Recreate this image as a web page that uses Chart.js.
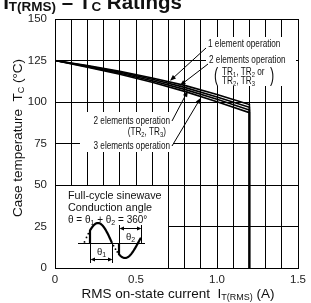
<!DOCTYPE html>
<html><head><meta charset="utf-8">
<script src="https://cdn.jsdelivr.net/npm/chart.js@4.4.0/dist/chart.umd.min.js"></script>
<style>html,body{margin:0;padding:0;background:#fff;overflow:hidden}#wrap{width:311px;height:303px;position:relative}</style>
</head><body><div id="wrap"><canvas id="c" width="311" height="303"></canvas></div>
<script>
// ---- data ----
const currentA        = [0, 0.2, 0.4, 0.6, 0.8, 1.0, 1.2, 1.2];
const oneElement      = [125, 122.0, 118.5, 114.5, 110.0, 104.5, 98.5, 0];
const twoElementsTR12 = [125, 121.7, 118.0, 113.7, 108.8, 103.0, 96.8, 0];
const twoElementsTR23 = [125, 121.3, 117.3, 112.8, 107.6, 101.6, 95.2, 0];
const threeElements   = [125, 121.0, 116.7, 111.9, 106.4, 100.2, 93.6, 0];
const xTickLabels = ['0', '0.5', '1.0', '1.5'];
const xTickValues = [0, 0.5, 1.0, 1.5];
const yTickValues = [0, 25, 50, 75, 100, 125, 150];

const FONT = '"Liberation Sans", Arial, Helvetica, sans-serif';

function pts(series){ return currentA.map((x,i)=>({x:x, y:series[i]})); }
function interp(series, x){
  for (let i=0;i<6;i++){
    if (x>=currentA[i] && x<=currentA[i+1]){
      const t=(x-currentA[i])/(currentA[i+1]-currentA[i]);
      return series[i]+(series[i+1]-series[i])*t;
    }
  }
  return series[0];
}

function drawRichBase(ctx, segs, x, y, size, o){
  o = o || {};
  const sx = o.sx || 1, bold = o.bold ? 'bold ' : '';
  const subSize = o.subSize || size*0.68;
  const subDy = (o.subDy !== undefined) ? o.subDy : size*0.25;
  ctx.save();
  ctx.fillStyle = o.color || '#111';
  ctx.textBaseline = 'alphabetic';
  ctx.textAlign = 'left';
  let w = 0;
  for (const [t, sub] of segs){ ctx.font = bold + (sub?subSize:size) + 'px ' + FONT; w += ctx.measureText(t).width; }
  const W = w*sx;
  const start = o.align==='center' ? x - W/2 : (o.align==='right' ? x - W : x);
  ctx.translate(start, y);
  ctx.scale(sx, 1);
  let cx = 0;
  for (const [t, sub] of segs){
    ctx.font = bold + (sub?subSize:size) + 'px ' + FONT;
    ctx.fillText(t, cx, sub?subDy:0);
    cx += ctx.measureText(t).width;
  }
  ctx.restore();
  return W;
}
function drawRich(ctx, segs, x, y, size, o){
  if (o && o.rotate){
    ctx.save();
    ctx.translate(x, y);
    ctx.rotate(o.rotate);
    const oo = Object.assign({}, o); delete oo.rotate;
    const r = drawRichBase(ctx, segs, 0, 0, size, oo);
    ctx.restore();
    return r;
  }
  return drawRichBase(ctx, segs, x, y, size, o);
}

function arrow(ctx, x1, y1, x2, y2){
  const a = Math.atan2(y2-y1, x2-x1), L=6, H=2.3;
  ctx.save();
  ctx.strokeStyle='#000'; ctx.fillStyle='#000'; ctx.lineWidth=1;
  ctx.beginPath(); ctx.moveTo(x1,y1); ctx.lineTo(x2 - Math.cos(a)*L*0.8, y2 - Math.sin(a)*L*0.8); ctx.stroke();
  ctx.beginPath();
  ctx.moveTo(x2,y2);
  ctx.lineTo(x2 - Math.cos(a)*L - Math.sin(a)*H, y2 - Math.sin(a)*L + Math.cos(a)*H);
  ctx.lineTo(x2 - Math.cos(a)*L + Math.sin(a)*H, y2 - Math.sin(a)*L - Math.cos(a)*H);
  ctx.closePath(); ctx.fill();
  ctx.restore();
}

function dblArrowH(ctx, xa, xb, y){
  ctx.save(); ctx.strokeStyle='#000'; ctx.fillStyle='#000'; ctx.lineWidth=1;
  ctx.beginPath(); ctx.moveTo(xa+3,y); ctx.lineTo(xb-3,y); ctx.stroke();
  ctx.beginPath(); ctx.moveTo(xa,y); ctx.lineTo(xa+4.5,y-2); ctx.lineTo(xa+4.5,y+2); ctx.closePath(); ctx.fill();
  ctx.beginPath(); ctx.moveTo(xb,y); ctx.lineTo(xb-4.5,y-2); ctx.lineTo(xb-4.5,y+2); ctx.closePath(); ctx.fill();
  ctx.restore();
}

const decor = {
  id: 'decor',
  beforeDatasetsDraw(chart){
    const ctx = chart.ctx, xs = chart.scales.x, ys = chart.scales.y;
    ctx.save();
    ctx.fillStyle = '#fff';
    ctx.fillRect(206, 37, 90, 49);
    ctx.fillRect(80, 112, 94, 40);
    const bl = Math.round(xs.getPixelForValue(0)), br = Math.round(xs.getPixelForValue(0.7));
    const bt = Math.round(ys.getPixelForValue(50)), bb = Math.round(ys.getPixelForValue(0));
    ctx.fillRect(bl, bt, br-bl, bb-bt);
    ctx.strokeStyle = '#000'; ctx.lineWidth = 1;
    ctx.strokeRect(bl+0.5, bt+0.5, br-bl, bb-bt);
    ctx.restore();
  },
  afterDatasetsDraw(chart){
    const ctx = chart.ctx, xs = chart.scales.x, ys = chart.scales.y;
    const P = (x,y)=>[xs.getPixelForValue(x), ys.getPixelForValue(y)];
    const sz = 10.5, sx = 0.78;
    drawRich(ctx, [['1 element operation',0]], 208, 47, sz, {sx});
    drawRich(ctx, [['2 elements operation',0]], 209, 62.5, sz, {sx});
    drawRich(ctx, [['TR',0],['1',1],[', TR',0],['2',1],[' or',0]], 222, 74.5, sz, {sx, subSize:7.5, subDy:2});
    drawRich(ctx, [['TR',0],['2',1],[', TR',0],['3',1]], 222, 84, sz, {sx, subSize:7.5, subDy:2});
    drawRich(ctx, [['(',0]], 214, 82, 21, {sx:0.6});
    drawRich(ctx, [[')',0]], 270, 82, 21, {sx:0.6});
    drawRich(ctx, [['2 elements operation',0]], 170, 123.5, sz, {sx, align:'right'});
    drawRich(ctx, [['(TR',0],['2',1],[', TR',0],['3',1],[')',0]], 166, 134.5, sz, {sx, align:'right', subSize:7.5, subDy:2});
    drawRich(ctx, [['3 elements operation',0]], 170, 148.5, sz, {sx, align:'right'});
    let t;
    t = P(0.71, interp(oneElement, 0.71)); arrow(ctx, 206, 48, t[0], t[1]-1.2);
    t = P(0.77, interp(twoElementsTR12, 0.77)); arrow(ctx, 208, 64, t[0], t[1]-0.5);
    t = P(0.82, interp(twoElementsTR23, 0.82)); arrow(ctx, 172, 121, t[0], t[1]+0.5);
    t = P(0.90, interp(threeElements, 0.90)); arrow(ctx, 172, 146, t[0], t[1]+1.2);

    drawRich(ctx, [['Full-cycle sinewave',0]], 68, 199, 10.8, {});
    drawRich(ctx, [['Conduction angle',0]], 68, 211, 10.8, {});
    drawRich(ctx, [['θ = θ',0],['1',1],[' + θ',0],['2',1],[' = 360°',0]], 68, 223, 10, {subSize:7, subDy:2});

    ctx.save();
    const base = 243;
    ctx.strokeStyle='#000'; ctx.lineWidth=1;
    ctx.beginPath(); ctx.moveTo(78, base+0.5); ctx.lineTo(145, base+0.5); ctx.stroke();
    const pos = x => base - 20*Math.sin(Math.PI*(x-84)/28);
    const neg = x => base + 15*Math.sin(Math.PI*(x-112)/26);
    ctx.lineWidth = 2.2; ctx.lineJoin='round';
    ctx.beginPath(); ctx.moveTo(90, base);
    for (let x=90; x<=112; x+=0.5) ctx.lineTo(x, pos(x));
    ctx.stroke();
    ctx.beginPath(); ctx.moveTo(119, base);
    for (let x=119; x<=141; x+=0.5) ctx.lineTo(x, neg(x));
    ctx.stroke();
    ctx.fillStyle='#000';
    for (const x of [84.5, 86.5, 88.3]) { ctx.beginPath(); ctx.arc(x, pos(x), 0.9, 0, Math.PI*2); ctx.fill(); }
    for (const x of [113.5, 115.5, 117.3]) { ctx.beginPath(); ctx.arc(x, neg(x), 0.9, 0, Math.PI*2); ctx.fill(); }
    ctx.lineWidth=1;
    ctx.beginPath();
    ctx.moveTo(90.5, base); ctx.lineTo(90.5, 263);
    ctx.moveTo(112.5, base); ctx.lineTo(112.5, 263);
    ctx.moveTo(119.5, 225); ctx.lineTo(119.5, base);
    ctx.moveTo(141.5, 225); ctx.lineTo(141.5, base);
    ctx.stroke();
    ctx.restore();
    dblArrowH(ctx, 90.5, 112.5, 259.5);
    dblArrowH(ctx, 119.5, 141.5, 228.5);
    drawRich(ctx, [['θ',0],['1',1]], 101.5, 255, 9.5, {align:'center', subSize:7, subDy:1.5});
    drawRich(ctx, [['θ',0],['2',1]], 130.5, 240, 9.5, {align:'center', subSize:7, subDy:1.5});
  },
  afterDraw(chart){
    const ctx = chart.ctx;
    drawRich(ctx, [['I',0],['T(RMS)',1],[' – T',0],['C',1],[' Ratings',0]], 182, 9, 20.5, {bold:true, align:'right', subSize:13.5, subDy:2});
    drawRich(ctx, [['Case temperature  T',0],['C',1],[' (°C)',0]], 21.5, 138, 13.5, {align:'center', rotate:-Math.PI/2, subSize:9, subDy:2});
    drawRich(ctx, [['RMS on-state current  I',0],['T(RMS)',1],[' (A)',0]], 178, 298, 13.5, {align:'center', subSize:9, subDy:2});
  }
};

const black = '#000';
const ds = (label, series) => ({
  label, data: pts(series), showLine: true, borderColor: black, borderWidth: 1.6,
  pointRadius: 0, fill: false, tension: 0, borderJoinStyle: 'miter'
});

new Chart(document.getElementById('c'), {
  type: 'scatter',
  data: { datasets: [
    ds('1 element operation', oneElement),
    ds('2 elements operation (TR1, TR2 or TR2, TR3)', twoElementsTR12),
    ds('2 elements operation (TR2, TR3)', twoElementsTR23),
    ds('3 elements operation', threeElements)
  ]},
  options: {
    responsive: false, animation: false, devicePixelRatio: 1,
    layout: { padding: { top: 19, right: 7, left: 0, bottom: 0 } },
    plugins: { legend: { display: false }, tooltip: { enabled: false } },
    scales: {
      x: {
        type: 'linear', min: 0, max: 1.5,
        afterFit: s => { s.height = 35; },
        grid: { color: '#000', lineWidth: 1, drawTicks: false },
        border: { display: true, color: '#000', width: 1 },
        ticks: {
          stepSize: 0.1, autoSkip: false, maxRotation: 0, padding: 5, color: '#222',
          font: { size: 11.5, family: FONT },
          callback: v => {
            const i = xTickValues.findIndex(t => Math.abs(t - v) < 1e-6);
            return i >= 0 ? xTickLabels[i] : '';
          }
        }
      },
      y: {
        type: 'linear', min: 0, max: 150,
        afterFit: s => { s.width = 55; },
        afterBuildTicks: s => { s.ticks = yTickValues.map(v => ({ value: v })); },
        grid: { color: '#000', lineWidth: 1, drawTicks: false },
        border: { display: true, color: '#000', width: 1 },
        ticks: { padding: 8, color: '#222', font: { size: 11.5, family: FONT } }
      }
    }
  },
  plugins: [decor]
});
</script></body></html>
